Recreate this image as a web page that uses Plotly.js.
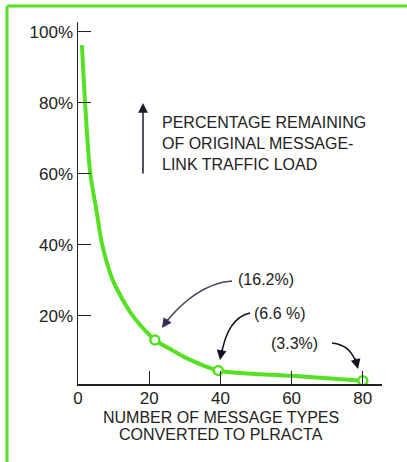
<!DOCTYPE html>
<html>
<head>
<meta charset="utf-8">
<script src="https://cdn.plot.ly/plotly-3.0.1.min.js"></script>
<style>
  body { margin: 0; background: #fff; }
  #chart { width: 407px; height: 462px; }
</style>
</head>
<body>
<div id="chart"></div>
<script>
// curve
var typesConverted = [1.1, 2, 3.4, 5.3, 6.7, 9.8, 15.4, 21.6, 25.8, 30.5, 39.4, 60, 80];
var pctRemaining = [96.3, 80, 60.5, 49, 40.5, 30, 20, 13.2, 10.7, 8.1, 4.6, 3.1, 1.7];

// the three marked points
var markX = [21.6, 39.4, 80];
var markY = [13.2, 4.6, 1.7];
var markLabels = ["(16.2%)", "(6.6 %)", "(3.3%)"];

var xTicks = [0, 20, 40, 60, 80];
var yTicks = [20, 40, 60, 80, 100];
var yTickText = yTicks.map(function (v) { return v + "%"; });

var green = "#55e022";
var ink = "#222222";
var font = "Liberation Sans, Arial, sans-serif";

// plot area in page pixels
var L = 78, R = 382, T = 22, B = 384;
function px(x) { return (x - L) / (R - L); }
function py(y) { return (B - y) / (B - T); }
function pt(x, y) { return px(x) + "," + py(y); }

var curve = {
  x: typesConverted,
  y: pctRemaining,
  type: "scatter",
  mode: "lines",
  line: { color: green, width: 4, shape: "spline", smoothing: 0.8 },
  hoverinfo: "skip",
};

var marks = {
  x: markX,
  y: markY,
  type: "scatter",
  mode: "markers",
  marker: { symbol: "circle", size: 9, color: "#ffffff", line: { color: green, width: 2.5 } },
};

// curved arrows: path + small annotation for the head
function curvedArrow(x0, y0, cx, cy, x1, y1, col) {
  return {
    type: "path", xref: "paper", yref: "paper",
    path: "M" + pt(x0, y0) + " Q" + pt(cx, cy) + " " + pt(x1, y1),
    line: { color: col, width: 1.5 },
  };
}
function head(x, y, ax, ay, col) {
  return {
    xref: "paper", yref: "paper", x: px(x), y: py(y), ax: ax, ay: ay,
    text: "", showarrow: true, arrowhead: 2, arrowsize: 1.3, arrowwidth: 1.5,
    arrowcolor: col, standoff: 0,
  };
}
function label(text, x, y, anchor, size) {
  return {
    xref: "paper", yref: "paper", x: px(x), y: py(y), text: text,
    showarrow: false, xanchor: anchor || "left", yanchor: "middle", align: "left",
    font: { family: font, size: size || 16, color: ink },
  };
}

var shapes = [
  // green frame of the scan
  { type: "line", xref: "paper", yref: "paper", x0: px(7), y0: py(6), x1: px(407), y1: py(6),
    line: { color: green, width: 3 } },
  { type: "line", xref: "paper", yref: "paper", x0: px(7), y0: py(6), x1: px(7), y1: py(462),
    line: { color: green, width: 3 } },
  curvedArrow(232, 281, 195, 284, 163, 326, "#4a4258"),
  curvedArrow(250, 313, 227, 318, 221, 357, "#15101f"),
  curvedArrow(332, 343, 352, 345, 357, 366, "#15101f"),
];

var annotations = [
  label(markLabels[0], 236, 279),
  label(markLabels[1], 252, 313),
  label(markLabels[2], 269, 343),
  head(162, 328, 7, -10, "#3a2a55"),
  head(220, 360, 2, -12, "#15101f"),
  head(358, 369, -3, -12, "#15101f"),
  // vertical arrow and its text
  { xref: "paper", yref: "paper", x: px(143), y: py(103), ax: 0, ay: 72, text: "",
    showarrow: true, arrowhead: 2, arrowsize: 1.3, arrowwidth: 1.5, arrowcolor: "#1a1a2a", standoff: 0 },
  { xref: "paper", yref: "paper", x: px(160), y: py(112), text:
    "PERCENTAGE REMAINING<br>OF ORIGINAL MESSAGE-<br>LINK TRAFFIC LOAD",
    showarrow: false, xanchor: "left", yanchor: "top", align: "left",
    font: { family: font, size: 16, color: ink } },
  // x axis title, two lines
  label("NUMBER OF MESSAGE TYPES", 221, 417, "center"),
  label("CONVERTED TO PLRACTA", 221, 434, "center"),
];

var layout = {
  width: 407,
  height: 462,
  margin: { l: L, r: 407 - R, t: T, b: 462 - B },
  paper_bgcolor: "#ffffff",
  plot_bgcolor: "#ffffff",
  showlegend: false,
  xaxis: {
    range: [0, 85.4],
    tickmode: "array",
    tickvals: xTicks,
    ticks: "inside", ticklen: 13, tickcolor: ink, tickwidth: 1,
    ticklabelstandoff: -2,
    showline: true, linecolor: ink, linewidth: 1.5,
    showgrid: false, zeroline: false,
    tickfont: { family: font, size: 17, color: ink },
  },
  yaxis: {
    range: [0.8, 102.8],
    tickmode: "array",
    tickvals: yTicks,
    ticktext: yTickText,
    ticks: "inside", ticklen: 13, tickcolor: ink, tickwidth: 1,
    showline: true, linecolor: ink, linewidth: 1.5,
    showgrid: false, zeroline: false,
    tickfont: { family: font, size: 17, color: ink },
  },
  shapes: shapes,
  annotations: annotations,
};

Plotly.newPlot("chart", [curve, marks], layout, { staticPlot: true });
</script>
</body>
</html>
